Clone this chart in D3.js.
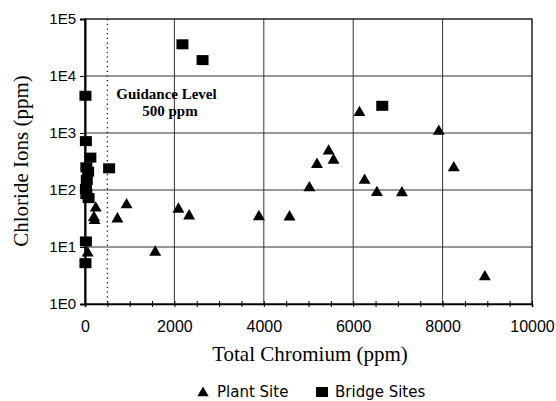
<!DOCTYPE html>
<html>
<head>
<meta charset="utf-8">
<script src="https://cdn.jsdelivr.net/npm/d3@7/dist/d3.min.js"></script>
<style>
  body { margin: 0; background: #fff; }
  svg { display: block; }
</style>
</head>
<body>
<div class="chart"></div>
<script>
// values
const plantX = [60, 200, 215, 240, 725, 930, 1570, 2090, 2330, 3890, 4575, 5020, 5190, 5450, 5560, 6140, 6255, 6530, 7090, 7915, 8250, 8945];
const plantY = [7.8, 33, 29, 48, 31, 55, 8.1, 46, 35, 34, 33.6, 109, 280, 480, 333, 2280, 148, 90, 89, 1070, 245, 3.0];

const bridgeX = [2180, 2630, 6650, 10, 20, 120, 30, 70, 540, 40, 20, 30, 80, 20, 10];
const bridgeY = [36000, 19000, 3000, 4500, 720, 370, 250, 210, 240, 150, 105, 85, 72, 12.5, 5.2];

const xTicks = [0, 2000, 4000, 6000, 8000, 10000];
const yTicks = [1, 10, 100, 1000, 10000, 100000];
const yTickLabels = ["1E0", "1E1", "1E2", "1E3", "1E4", "1E5"];
const guidance = 500;

const W = 556, H = 401;
const plotL = 85, plotR = 532, plotT = 19, plotB = 304;

const svg = d3.select(".chart")
    .append("svg")
    .attr("width", W)
    .attr("height", H);

const x = d3.scaleLinear().domain([0, 10000]).range([plotL, plotR]);
const y = d3.scaleLog().domain([1, 100000]).range([plotB, plotT]);

// grid
svg.append("g")
    .selectAll("line")
    .data(xTicks.slice(1, -1))
    .join("line")
    .attr("x1", d => x(d)).attr("x2", d => x(d))
    .attr("y1", plotT).attr("y2", plotB)
    .attr("stroke", "#333").attr("stroke-width", 1);

svg.append("g")
    .selectAll("line")
    .data(yTicks.slice(1, -1))
    .join("line")
    .attr("x1", plotL).attr("x2", plotR)
    .attr("y1", d => y(d)).attr("y2", d => y(d))
    .attr("stroke", "#333").attr("stroke-width", 1);

// frame
svg.append("rect")
    .attr("x", plotL).attr("y", plotT)
    .attr("width", plotR - plotL).attr("height", plotB - plotT)
    .attr("fill", "none").attr("stroke", "#000").attr("stroke-width", 1.3);

// guidance line
svg.append("line")
    .attr("x1", x(guidance)).attr("x2", x(guidance))
    .attr("y1", plotT).attr("y2", plotB)
    .attr("stroke", "#000").attr("stroke-width", 1.2)
    .attr("stroke-dasharray", "1.2,3.5");

// axes
const xAxis = d3.axisBottom(x)
    .tickValues(d3.range(0, 10001, 500))
    .tickSize(3)
    .tickFormat("");
svg.append("g")
    .attr("transform", `translate(0,${plotB})`)
    .call(xAxis)
    .call(g => g.select(".domain").attr("stroke-width", 1.6))
    .call(g => g.selectAll(".tick line").attr("y1", -3).attr("stroke-width", 1));

svg.append("g")
    .attr("transform", `translate(0,${plotB})`)
    .call(d3.axisBottom(x).tickValues(xTicks).tickSize(0).tickPadding(17).tickFormat(d3.format("d")))
    .call(g => g.select(".domain").remove())
    .call(g => g.selectAll("text")
        .attr("font-family", "Liberation Sans, Arial, sans-serif")
        .attr("font-size", 16)
        .attr("fill", "#000"));

svg.append("g")
    .attr("transform", `translate(${plotL},0)`)
    .call(d3.axisLeft(y).tickValues(yTicks).tickSize(5).tickPadding(4)
        .tickFormat((d, i) => yTickLabels[i]))
    .call(g => g.select(".domain").attr("stroke-width", 2))
    .call(g => g.selectAll("text")
        .attr("font-family", "Liberation Sans, Arial, sans-serif")
        .attr("font-size", 15)
        .attr("fill", "#000"));

// axis titles
svg.append("text")
    .attr("x", 310).attr("y", 361)
    .attr("text-anchor", "middle")
    .attr("font-family", "Liberation Serif, Times New Roman, serif")
    .attr("font-size", 21)
    .text("Total Chromium (ppm)");

svg.append("text")
    .attr("transform", "translate(28,161) rotate(-90)")
    .attr("text-anchor", "middle")
    .attr("font-family", "Liberation Serif, Times New Roman, serif")
    .attr("font-size", 21)
    .text("Chloride Ions (ppm)");

// guidance label
const gl = svg.append("text")
    .attr("text-anchor", "middle")
    .attr("font-family", "Liberation Serif, Times New Roman, serif")
    .attr("font-size", 15)
    .attr("font-weight", "bold");
gl.append("tspan").attr("x", 166.5).attr("y", 99).text("Guidance Level");
gl.append("tspan").attr("x", 170).attr("y", 116).text("500 ppm");

// points
const tri = d3.symbol().type(d3.symbolTriangle).size(62);

svg.append("g")
    .selectAll("path")
    .data(d3.zip(plantX, plantY))
    .join("path")
    .attr("transform", d => `translate(${x(d[0])},${y(d[1])})`)
    .attr("d", tri)
    .attr("fill", "#000");

svg.append("g")
    .selectAll("rect")
    .data(d3.zip(bridgeX, bridgeY))
    .join("rect")
    .attr("x", d => x(d[0]) - 6)
    .attr("y", d => y(d[1]) - 5)
    .attr("width", 12)
    .attr("height", 10)
    .attr("fill", "#000");

// legend
const legend = svg.append("g")
    .attr("font-family", "DejaVu Sans, sans-serif")
    .attr("font-size", 15);
legend.append("path")
    .attr("transform", "translate(203,393)")
    .attr("d", d3.symbol().type(d3.symbolTriangle).size(56))
    .attr("fill", "#000");
legend.append("text").attr("x", 217).attr("y", 397).text("Plant Site");
legend.append("rect")
    .attr("x", 316).attr("y", 387).attr("width", 12).attr("height", 10)
    .attr("fill", "#000");
legend.append("text").attr("x", 335).attr("y", 397).text("Bridge Sites");
</script>
</body>
</html>
